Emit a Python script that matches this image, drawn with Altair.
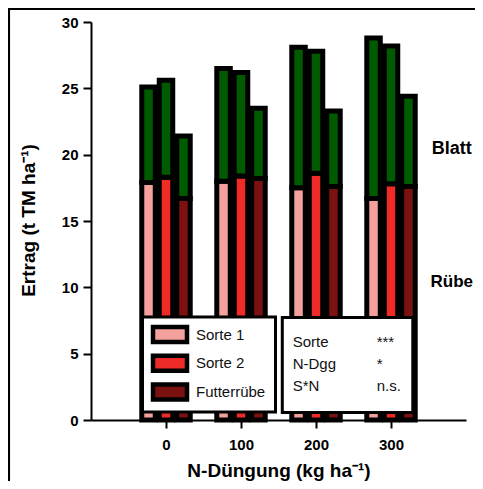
import altair as alt
import pandas as pd

# ---------------- data ----------------
n_levels = [0, 100, 200, 300]
varieties = ["Sorte 1", "Sorte 2", "Futterrübe"]
# Rübe (root) yield and total yield (Rübe + Blatt), t TM/ha
ruebe = {
    "Sorte 1": [17.9, 18.0, 17.5, 16.7],
    "Sorte 2": [18.3, 18.4, 18.6, 17.8],
    "Futterrübe": [16.7, 18.2, 17.6, 17.6],
}
total = {
    "Sorte 1": [25.1, 26.5, 28.1, 28.8],
    "Sorte 2": [25.6, 26.2, 27.8, 28.2],
    "Futterrübe": [21.4, 23.5, 23.3, 24.4],
}
variety_colors = ["#F4A19E", "#EE2B26", "#7B1111"]
leaf_color = "#005A00"
stats_terms = ["Sorte", "N-Dgg", "S*N"]
stats_sig = ["***", "*", "n.s."]
y_ticks = [0, 5, 10, 15, 20, 25, 30]
x_ticks = [0, 100, 200, 300]

rows = []
for i, n in enumerate(n_levels):
    for vi, v in enumerate(varieties):
        rows.append({"N": n, "variety": v, "vi": vi,
                     "ruebe": ruebe[v][i], "total": total[v][i]})
df = pd.DataFrame(rows)

FONT = "Liberation Sans, Arial, sans-serif"
W, H = 375, 398

xscale = alt.Scale(domain=[-100, 400], nice=False, zero=False)
yscale = alt.Scale(domain=[0, 30], nice=False)

base = alt.Chart(df).transform_calculate(
    xl="datum.N + (datum.vi - 1) * 23.3 - 9",
    xr="datum.N + (datum.vi - 1) * 23.3 + 9",
)

x_axis = alt.Axis(
    values=x_ticks, grid=False, tickSize=8, tickWidth=2, tickColor="black",
    domainWidth=2, domainColor="black", labelFont=FONT, labelFontSize=15,
    labelFontWeight="bold", labelColor="black", labelPadding=9,
    title="N-Düngung (kg ha⁻¹)", titleFont=FONT, titleFontSize=19,
    titleFontWeight="bold", titleColor="black", titleX=187.5, titleY=56,
    titleAlign="center", titleBaseline="alphabetic",
)
y_axis = alt.Axis(
    values=y_ticks, grid=False, tickSize=8, tickWidth=2, tickColor="black",
    domainWidth=2, domainColor="black", labelFont=FONT, labelFontSize=15,
    labelFontWeight="bold", labelColor="black", labelPadding=5,
    title="Ertrag (t TM ha⁻¹)", titleFont=FONT, titleFontSize=19,
    titleFontWeight="bold", titleColor="black", titleAngle=270,
    titleX=-63, titleY=198, titleAlign="center", titleBaseline="middle",
)

roots = base.mark_bar(stroke="black", strokeWidth=5).encode(
    x=alt.X("xl:Q", scale=xscale, axis=x_axis),
    x2="xr:Q",
    y=alt.Y("ruebe:Q", scale=yscale, axis=y_axis),
    y2=alt.datum(0),
    color=alt.Color("variety:N", scale=alt.Scale(domain=varieties, range=variety_colors), legend=None),
)
leaves = base.mark_bar(stroke="black", strokeWidth=5, color=leaf_color).encode(
    x="xl:Q", x2="xr:Q", y="ruebe:Q", y2="total:Q",
)

one = pd.DataFrame({"k": [0]})
frame = alt.Chart(one).mark_rect(filled=False, stroke="black", strokeWidth=2.7).encode(
    x=alt.value(-82.3), x2=alt.value(430), y=alt.value(-13.3), y2=alt.value(480))

box1 = alt.Chart(one).mark_rect(fill="white", stroke="black", strokeWidth=3).encode(
    x=alt.value(51.5), x2=alt.value(184.5), y=alt.value(295), y2=alt.value(390))
box2 = alt.Chart(one).mark_rect(fill="white", stroke="black", strokeWidth=3).encode(
    x=alt.value(191.3), x2=alt.value(321.8), y=alt.value(295.5), y2=alt.value(390.5))

layers = [frame, roots, leaves, box1, box2]

sw_y = [312.6, 341.3, 370.0]
for lab, col, yc in zip(varieties, variety_colors, sw_y):
    layers.append(alt.Chart(one).mark_rect(fill=col, stroke="black", strokeWidth=4.5).encode(
        x=alt.value(62), x2=alt.value(96), y=alt.value(yc - 7.5), y2=alt.value(yc + 7.5)))
    layers.append(alt.Chart(one).mark_text(
        text=lab, font=FONT, fontSize=15, align="left", baseline="middle", color="#111111").encode(
        x=alt.value(105), y=alt.value(yc)))

st_y = [319.5, 341.5, 363.8]
for term, sig, yc in zip(stats_terms, stats_sig, st_y):
    layers.append(alt.Chart(one).mark_text(
        text=term, font=FONT, fontSize=15, align="left", baseline="middle", color="#111111").encode(
        x=alt.value(201.7), y=alt.value(yc)))
    layers.append(alt.Chart(one).mark_text(
        text=sig, font=FONT, fontSize=15, align="left", baseline="middle", color="#111111").encode(
        x=alt.value(285.7), y=alt.value(yc)))

for lab, yc, fs, xx in zip(["Blatt", "Rübe"], [127, 259.7], [18, 17], [340.7, 339.5]):
    layers.append(alt.Chart(one).mark_text(
        text=lab, font=FONT, fontSize=fs, fontWeight="bold", align="left", baseline="middle", color="black").encode(
        x=alt.value(xx), y=alt.value(yc)))

chart = alt.layer(*layers).properties(
    width=W, height=H,
    autosize=alt.AutoSizeParams(type="none"),
    padding={"left": 83, "top": 14, "right": 9, "bottom": 61},
    background="white",
).configure_view(strokeWidth=0)

chart.save("out.html", embed_options={"renderer": "svg", "actions": False})
